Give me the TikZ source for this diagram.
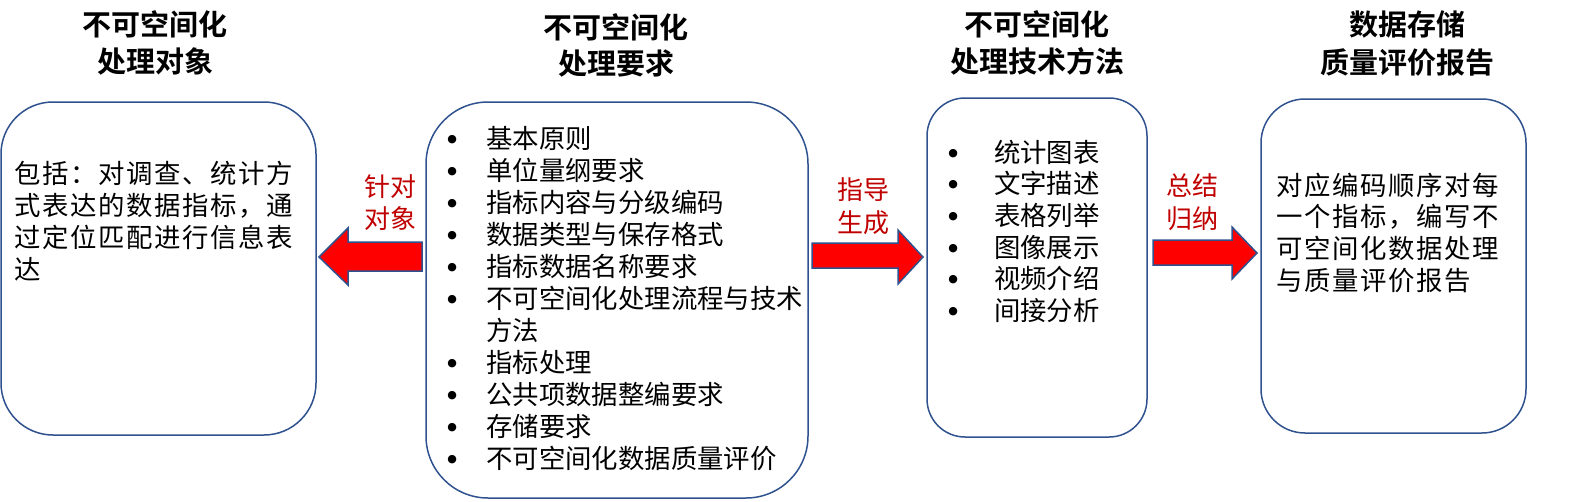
\documentclass[tikz,border=0pt]{standalone}
\usepackage{fontspec}
\newfontfamily\cjk{Noto Sans CJK SC}[BoldFont={Noto Sans CJK SC Bold}]
\newfontfamily\cjkwide{Noto Sans CJK SC}[LetterSpace=6]
\newfontfamily\dejavu{DejaVu Sans}
\definecolor{boxblue}{RGB}{47,82,143}
\definecolor{labelred}{RGB}{192,0,0}
\newcommand{\mybul}[1][34pt]{\leavevmode\llap{\makebox[0pt][c]{\raisebox{6pt}{\dejavu\fontsize{11}{11}\selectfont ●}}\hspace{#1}}}
\begin{document}
\begin{tikzpicture}[x=1pt,y=-1pt,
  box/.style={draw=boxblue, line width=1.5pt, rectangle, inner sep=0pt},
  fatarrow/.style={draw=boxblue, fill=red, line width=1.5pt, line join=miter},
  titletext/.style={anchor=base, inner sep=0pt},
  bodytext/.style={anchor=base west, inner sep=0pt},
  redlabel/.style={anchor=base, inner sep=0pt, text=labelred}]
\useasboundingbox (0,0) rectangle (1573,501);

% titles
\node[titletext] (h1) at (155,35) {\parbox[t]{250pt}{\centering\cjk\bfseries\fontsize{29}{37}\selectfont 不可空间化\\处理对象}};
\node[titletext] (h2) at (616,38) {\parbox[t]{250pt}{\centering\cjk\bfseries\fontsize{29}{36}\selectfont 不可空间化\\处理要求}};
\node[titletext] (h3) at (1037,35.5) {\parbox[t]{250pt}{\centering\cjk\bfseries\fontsize{29}{36.5}\selectfont 不可空间化\\处理技术方法}};
\node[titletext] (h4) at (1407,35.5) {\parbox[t]{250pt}{\centering\cjk\bfseries\fontsize{29}{37.5}\selectfont 数据存储\\质量评价报告}};

% boxes
\node[box, rounded corners=52pt, minimum width=315pt, minimum height=333pt] (b1) at (158.5,268.5) {};
\node[box, rounded corners=62pt, minimum width=382pt, minimum height=396pt] (b2) at (617,300) {};
\node[box, rounded corners=38pt, minimum width=220pt, minimum height=339pt] (b3) at (1037,267.5) {};
\node[box, rounded corners=44pt, minimum width=265pt, minimum height=334pt] (b4) at (1393.5,266) {};

% box texts
\node[bodytext] (t1) at (14,183) {\parbox[t]{300pt}{\cjkwide\fontsize{26.4}{32}\selectfont 包括：对调查、统计方\\式表达的数据指标，通\\过定位匹配进行信息表\\达}};
\node[bodytext] (t2) at (486,148) {\parbox[t]{330pt}{\cjk\fontsize{26.4}{32}\selectfont
\mybul 基本原则\\
\mybul 单位量纲要求\\
\mybul 指标内容与分级编码\\
\mybul 数据类型与保存格式\\
\mybul 指标数据名称要求\\
\mybul 不可空间化处理流程与技术\\
方法\\
\mybul 指标处理\\
\mybul 公共项数据整编要求\\
\mybul 存储要求\\
\mybul 不可空间化数据质量评价}};
\node[bodytext] (t3) at (988,162) {\parbox[t]{150pt}{\cjk\fontsize{26.4}{31.7}\selectfont
\mybul[35pt] 统计图表\\
\mybul[35pt] 文字描述\\
\mybul[35pt] 表格列举\\
\mybul[35pt] 图像展示\\
\mybul[35pt] 视频介绍\\
\mybul[35pt] 间接分析}};
\node[bodytext] (t4) at (1276,195) {\parbox[t]{250pt}{\cjkwide\fontsize{26.4}{31.7}\selectfont 对应编码顺序对每\\一个指标，编写不\\可空间化数据处理\\与质量评价报告}};

% block arrows
\draw[fatarrow] (422,242) -- (348,242) -- (348,228) -- (319,257) -- (348,285) -- (348,271) -- (422,271) -- cycle;
\draw[fatarrow] (812,243) -- (898,243) -- (898,230) -- (923,257) -- (898,284) -- (898,268) -- (812,268) -- cycle;
\draw[fatarrow] (1153,240) -- (1232,240) -- (1232,227) -- (1257,253) -- (1232,279) -- (1232,265) -- (1153,265) -- cycle;

% arrow labels
\node[redlabel] (l1) at (390,196) {\parbox[t]{80pt}{\centering\cjk\fontsize{26}{32}\selectfont 针对\\对象}};
\node[redlabel] (l2) at (863,199) {\parbox[t]{80pt}{\centering\cjk\fontsize{26}{33}\selectfont 指导\\生成}};
\node[redlabel] (l3) at (1192,195) {\parbox[t]{80pt}{\centering\cjk\fontsize{26}{33}\selectfont 总结\\归纳}};
\end{tikzpicture}
\end{document}
